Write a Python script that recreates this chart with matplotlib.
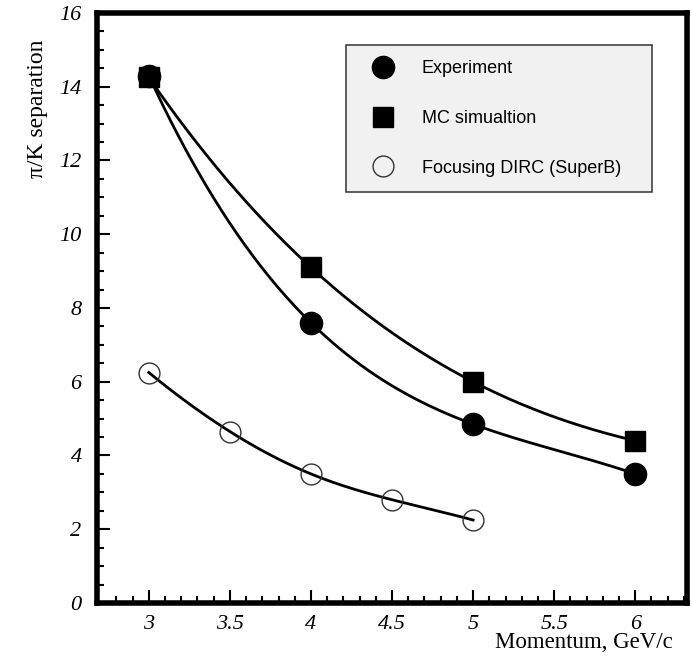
import numpy as np
import matplotlib
matplotlib.use("Agg")
from matplotlib import pyplot as plt

# values
p_exp = [3, 4, 5, 6]
sep_exp = [14.3, 7.6, 4.85, 3.5]
p_mc = [3, 4, 5, 6]
sep_mc = [14.25, 9.1, 6.0, 4.4]
p_dirc = [3, 3.5, 4, 4.5, 5]
sep_dirc = [6.25, 4.65, 3.5, 2.8, 2.25]

labels = ["Experiment", "MC simualtion", "Focusing DIRC (SuperB)"]
xticks = [3, 3.5, 4, 4.5, 5, 5.5, 6]
yticks = [0, 2, 4, 6, 8, 10, 12, 14, 16]


def spline(x, y, n=200):
    # cubic spline, not-a-knot ends
    x = np.asarray(x, float)
    y = np.asarray(y, float)
    k = len(x)
    h = np.diff(x)
    A = np.zeros((k, k))
    r = np.zeros(k)
    A[0, :3] = [h[1], -(h[0] + h[1]), h[0]]
    A[-1, -3:] = [h[-1], -(h[-2] + h[-1]), h[-2]]
    for i in range(1, k - 1):
        A[i, i - 1] = h[i - 1]
        A[i, i] = 2 * (h[i - 1] + h[i])
        A[i, i + 1] = h[i]
        r[i] = 6 * ((y[i + 1] - y[i]) / h[i] - (y[i] - y[i - 1]) / h[i - 1])
    M = np.linalg.solve(A, r)
    xs = np.linspace(x[0], x[-1], n)
    idx = np.clip(np.searchsorted(x, xs) - 1, 0, k - 2)
    x0, x1 = x[idx], x[idx + 1]
    hh = h[idx]
    ys = (M[idx] * (x1 - xs) ** 3 / (6 * hh) + M[idx + 1] * (xs - x0) ** 3 / (6 * hh)
          + (y[idx] / hh - M[idx] * hh / 6) * (x1 - xs)
          + (y[idx + 1] / hh - M[idx + 1] * hh / 6) * (xs - x0))
    return xs, ys


fig = plt.figure(figsize=(6.92, 6.58), dpi=100)
ax = fig.add_axes([0.140, 0.0836, 0.853, 0.8967])

for xx, yy in [(p_exp, sep_exp), (p_mc, sep_mc), (p_dirc, sep_dirc)]:
    xs, ys = spline(xx, yy)
    ax.plot(xs, ys, color="black", lw=2.0, zorder=2)

h1, = ax.plot(p_exp, sep_exp, "o", ms=16, color="black", ls="none", zorder=3)
h2, = ax.plot(p_mc, sep_mc, "s", ms=14.5, color="black", ls="none", zorder=3)
h3, = ax.plot(p_dirc, sep_dirc, "o", ms=15, mfc="none", mec="#333333", mew=1.0,
              ls="none", zorder=3)

ax.set_xlim(2.68, 6.32)
ax.set_ylim(0, 16)
ax.set_xticks(xticks)
ax.set_xticklabels([str(t) for t in xticks])
ax.set_xticks(np.arange(2.8, 6.31, 0.1), minor=True)
ax.set_yticks(yticks)
ax.set_yticks(np.arange(0, 16.01, 0.5), minor=True)

for s in ax.spines.values():
    s.set_linewidth(4)
ax.tick_params(which="both", direction="in", top=False, right=False, width=1.5)
ax.tick_params(which="major", length=9.5)
ax.tick_params(which="minor", length=5)
ax.tick_params(axis="x", pad=9)
ax.tick_params(axis="y", pad=11)
for lab in ax.get_xticklabels() + ax.get_yticklabels():
    lab.set_fontfamily("Liberation Serif")
    lab.set_fontstyle("italic")
    lab.set_fontsize(16)

ax.set_xlabel("Momentum, GeV/c", fontfamily="Liberation Serif", fontsize=16.5, loc="right")
ax.xaxis.set_label_coords(0.976, -0.050)
ax.set_ylabel("\u03c0/K separation", fontfamily="Liberation Serif", fontsize=17, loc="top")
ax.yaxis.set_label_coords(-0.082, 0.954)

leg = ax.legend([h1, h2, h3], labels, loc="upper left",
                bbox_to_anchor=(0.422, 0.705, 0.519, 0.241), mode="expand",
                borderaxespad=0, prop={"family": "Liberation Sans", "size": 13},
                fancybox=False, framealpha=1, handlelength=2.39, handletextpad=0.96,
                labelspacing=1.81, borderpad=0.85)
leg.get_frame().set_facecolor("#f1f1f1")
leg.get_frame().set_edgecolor("#333333")
leg.get_frame().set_linewidth(1.1)

fig.savefig("out.png", dpi=100)
